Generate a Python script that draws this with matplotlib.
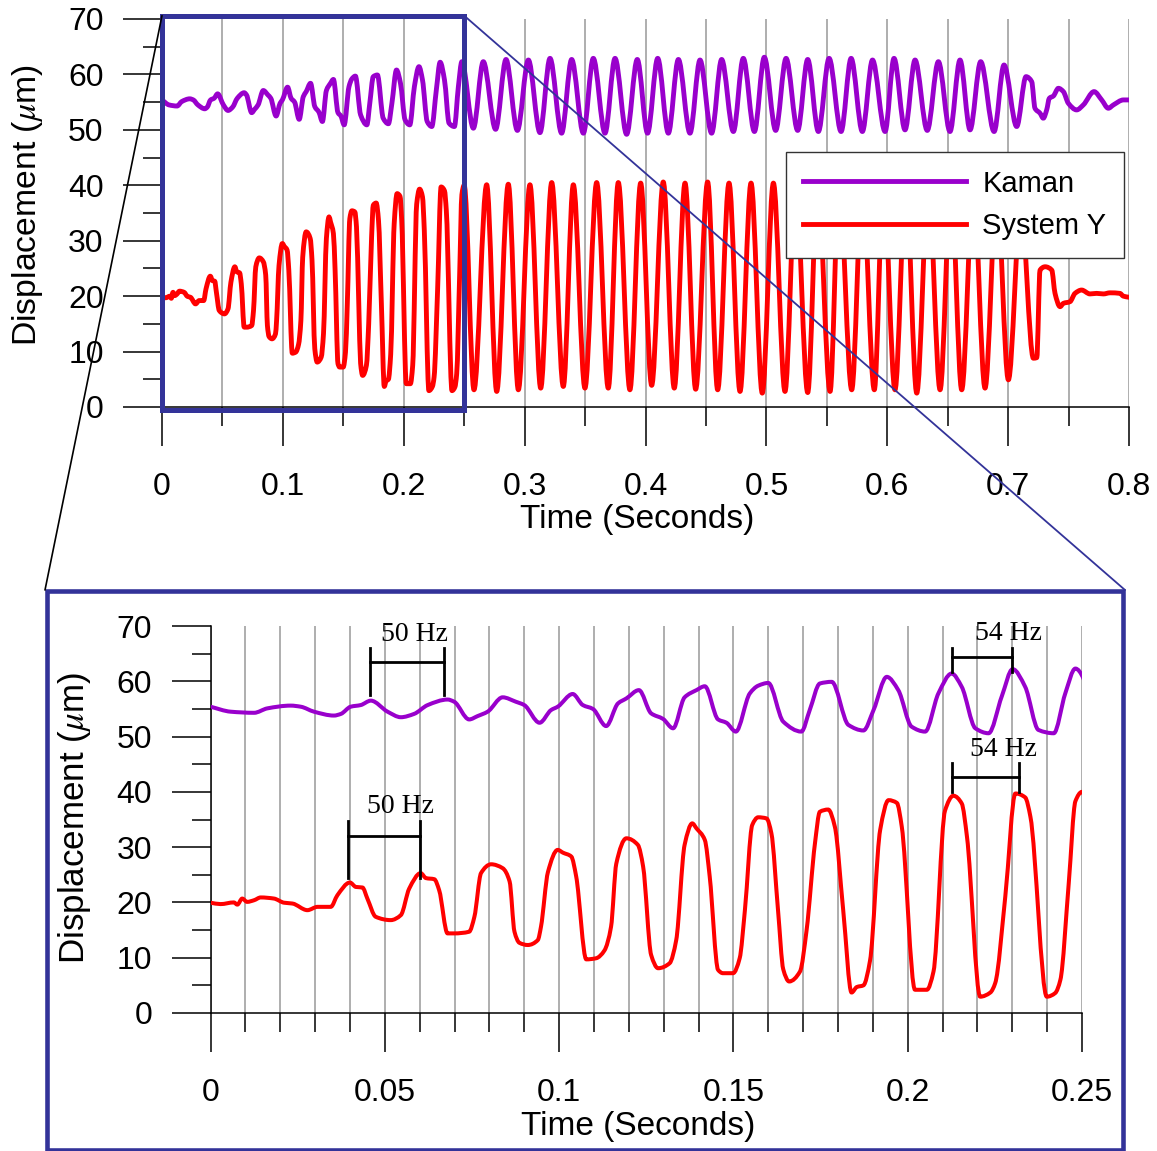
import matplotlib
matplotlib.use("Agg")
import matplotlib.pyplot as plt
from matplotlib.patches import Rectangle, ConnectionPatch, PathPatch
from matplotlib.path import Path
from matplotlib.lines import Line2D
from matplotlib.ticker import MultipleLocator, FuncFormatter

plt.rcParams["font.family"] = ["Liberation Sans", "DejaVu Sans"]
plt.rcParams["mathtext.fontset"] = "stix"

W, H = 1157, 1151

# Kaman probe, time (s) / displacement (um)
kaman_t = [0, 0.0058, 0.0125, 0.0163, 0.0230, 0.0259, 0.0297, 0.0354, 0.0374, 0.0402,
           0.0431, 0.0460, 0.0508, 0.0546, 0.0584, 0.0623, 0.0680, 0.0699, 0.0742, 0.0766,
           0.0795, 0.0838, 0.0876, 0.0900, 0.0944, 0.0977, 0.0996, 0.1039, 0.1068, 0.1097,
           0.1135, 0.1169, 0.1193, 0.1229, 0.1264, 0.1298, 0.1327, 0.1360, 0.1394, 0.1418,
           0.1456, 0.1480, 0.1507, 0.1547, 0.1571, 0.1600, 0.1643, 0.1695, 0.1719, 0.1748,
           0.1782, 0.1830, 0.1873, 0.1902, 0.1940, 0.1973, 0.2011, 0.2050, 0.2088, 0.2126,
           0.2155, 0.2194, 0.2232, 0.2270, 0.2301, 0.2337, 0.2375, 0.2419, 0.2452, 0.2481,
           0.2576, 0.2658, 0.2760, 0.2846, 0.2940, 0.3031, 0.3127, 0.3210, 0.3306, 0.3389,
           0.3486, 0.3568, 0.3665, 0.3748, 0.3844, 0.3932, 0.4017, 0.4101, 0.4189, 0.4272,
           0.4368, 0.4451, 0.4547, 0.4630, 0.4727, 0.4809, 0.4901, 0.4983, 0.5077, 0.5163,
           0.5259, 0.5342, 0.5430, 0.5519, 0.5618, 0.5701, 0.5794, 0.5878, 0.5982, 0.6056,
           0.6147, 0.6230, 0.6331, 0.6423, 0.6519, 0.6602, 0.6685, 0.6773, 0.6884, 0.6966,
           0.7071, 0.7148, 0.7195, 0.7222, 0.7264, 0.7291, 0.7319, 0.7341, 0.7374, 0.7416,
           0.7457, 0.7498, 0.7567, 0.7622, 0.7711, 0.7774, 0.7829, 0.7871, 0.7954, 0.8000]
kaman_um = [55.4, 54.5, 54.3, 55.1, 55.6, 55.4, 54.5, 53.8, 54.1, 55.4,
            55.7, 56.5, 54.5, 53.5, 54.1, 55.7, 56.7, 56.3, 53.1, 53.7,
            54.5, 57.1, 56.3, 55.7, 52.5, 54.8, 55.4, 57.7, 55.7, 55.0,
            51.9, 56.0, 56.9, 58.4, 54.2, 53.2, 51.5, 57.1, 58.4, 59.1,
            53.1, 52.5, 50.9, 57.8, 59.2, 59.7, 52.7, 50.9, 54.8, 59.6,
            59.9, 52.1, 51.1, 54.8, 60.8, 58.4, 51.8, 50.9, 57.8, 61.4,
            59.0, 51.5, 50.6, 57.3, 62.2, 59.0, 51.2, 50.6, 57.8, 62.3,
            50.3, 62.3, 50.1, 62.7, 49.9, 62.6, 49.5, 62.9, 49.4, 62.7,
            49.4, 62.9, 49.4, 62.9, 49.2, 62.7, 49.4, 62.9, 49.4, 62.7,
            49.4, 62.6, 49.4, 62.7, 49.7, 62.9, 49.7, 63.1, 49.9, 62.9,
            49.9, 62.7, 49.7, 62.9, 49.7, 62.9, 49.7, 62.6, 49.7, 62.9,
            50.0, 62.6, 49.9, 62.3, 49.7, 62.6, 50.0, 62.3, 49.7, 61.7,
            50.6, 59.6, 58.7, 53.9, 53.0, 52.1, 53.6, 55.7, 56.1, 57.5,
            56.9, 54.8, 53.6, 54.5, 56.9, 55.4, 53.9, 54.5, 55.4, 55.4]

# System Y
sysy_t = [0, 0.0029, 0.0067, 0.0077, 0.0091, 0.0105, 0.0125, 0.0144, 0.0182, 0.0211,
          0.0235, 0.0278, 0.0307, 0.0345, 0.0364, 0.0400, 0.0417, 0.0436, 0.0450, 0.0474,
          0.0517, 0.0546, 0.0570, 0.0603, 0.0618, 0.0642, 0.0656, 0.0680, 0.0699, 0.0742,
          0.0757, 0.0776, 0.0805, 0.0838, 0.0858, 0.0872, 0.0886, 0.0910, 0.0939, 0.0948,
          0.0968, 0.0996, 0.1011, 0.1035, 0.1049, 0.1078, 0.1106, 0.1130, 0.1149, 0.1164,
          0.1193, 0.1226, 0.1241, 0.1264, 0.1284, 0.1317, 0.1336, 0.1360, 0.1382, 0.1394,
          0.1418, 0.1432, 0.1456, 0.1470, 0.1499, 0.1518, 0.1533, 0.1554, 0.1571, 0.1595,
          0.1609, 0.1628, 0.1643, 0.1660, 0.1691, 0.1710, 0.1734, 0.1748, 0.1772, 0.1791,
          0.1815, 0.1839, 0.1854, 0.1873, 0.1892, 0.1921, 0.1945, 0.1969, 0.1983, 0.2021,
          0.2055, 0.2074, 0.2107, 0.2131, 0.2155, 0.2170, 0.2208, 0.2237, 0.2251, 0.2280,
          0.2309, 0.2337, 0.2352, 0.2399, 0.2423, 0.2438, 0.2462, 0.2481, 0.2500, 0.2581,
          0.2686, 0.2769, 0.2865, 0.2948, 0.3044, 0.3133, 0.3224, 0.3320, 0.3403, 0.3499,
          0.3596, 0.3692, 0.3775, 0.3871, 0.3960, 0.4051, 0.4147, 0.4238, 0.4327, 0.4415,
          0.4514, 0.4597, 0.4691, 0.4782, 0.4873, 0.4966, 0.5058, 0.5154, 0.5242, 0.5342,
          0.5424, 0.5527, 0.5601, 0.5706, 0.5794, 0.5893, 0.5968, 0.6064, 0.6154, 0.6244,
          0.6340, 0.6437, 0.6527, 0.6616, 0.6712, 0.6809, 0.6906, 0.7002, 0.7105, 0.7209,
          0.7237, 0.7264, 0.7306, 0.7361, 0.7388, 0.7430, 0.7457, 0.7512, 0.7553, 0.7608,
          0.7677, 0.7732, 0.7788, 0.7843, 0.7925, 0.7953, 0.8000]
sysy_um = [19.95, 19.7, 20.0, 19.6, 20.7, 20.1, 20.4, 20.9, 20.7, 19.95,
           19.8, 18.6, 19.2, 19.2, 21.3, 23.6, 22.8, 22.7, 20.7, 17.4,
           16.8, 17.7, 22.5, 25.3, 24.4, 24.2, 22.2, 14.4, 14.4, 14.7,
           17.4, 25.3, 26.9, 26.2, 23.8, 14.7, 12.7, 12.3, 13.2, 15.6,
           25.5, 29.5, 29.0, 28.3, 24.7, 9.7, 9.9, 11.3, 15.6, 27.0,
           31.6, 30.4, 26.5, 10.5, 8.1, 9.0, 13.2, 30.4, 34.3, 33.4,
           31.3, 24.7, 7.8, 7.2, 7.2, 9.9, 18.6, 34.0, 35.4, 35.2,
           32.5, 18.6, 7.9, 5.7, 7.5, 15.0, 30.7, 36.4, 36.8, 33.7,
           18.6, 3.7, 4.7, 5.0, 9.5, 33.1, 38.5, 38.0, 33.7, 4.2,
           4.2, 7.5, 36.6, 39.3, 37.9, 31.9, 2.95, 3.7, 5.4, 21.1,
           39.7, 39.0, 35.5, 2.95, 3.6, 6.0, 23.5, 38.3, 40.0, 3.1,
           40.1, 2.8, 40.2, 3.1, 40.1, 3.4, 40.5, 3.7, 40.1, 3.4,
           40.5, 3.4, 40.5, 3.1, 40.4, 3.9, 40.6, 3.4, 40.4, 3.2,
           40.6, 3.1, 40.4, 2.8, 40.4, 2.5, 40.4, 2.8, 40.4, 2.6,
           40.4, 2.8, 40.4, 3.1, 40.4, 3.1, 40.4, 3.1, 40.2, 2.5,
           40.2, 3.1, 40.0, 3.1, 39.8, 3.4, 39.0, 4.9, 36.0, 8.8,
           8.9, 24.7, 25.3, 24.7, 20.5, 18.1, 18.7, 19.0, 20.5, 21.1,
           20.4, 20.5, 20.4, 20.6, 20.5, 20.0, 19.8]

series_names = ["Kaman", "System Y"]
series_colors = ["#9900cc", "#ff0000"]

zoom_range = (0, 0.25)

# period brackets on the zoomed panel: x1, x2, y_low, y_bar, y_high, label, text x, text y
brackets = [(0.0458, 0.0671, 57.5, 63.5, 66.0, "50 Hz", 0.0584, 68.5),
            (0.0395, 0.0601, 24.4, 32.1, 34.8, "50 Hz", 0.0546, 37.4),
            (0.2126, 0.2300, 61.7, 64.4, 66.0, "54 Hz", 0.2288, 68.6),
            (0.2126, 0.2320, 40.0, 42.7, 45.2, "54 Hz", 0.2276, 47.6)]

frame_blue = "#333399"

fig = plt.figure(figsize=(W / 100, H / 100), dpi=100)


def px_axes(l, t, r, b):
    return fig.add_axes([l / W, 1 - b / H, (r - l) / W, (b - t) / H])


def smooth_path(t, v):
    # smoothed line through the read points, monotone cubic so it never overshoots
    n = len(t)
    h = [t[i + 1] - t[i] for i in range(n - 1)]
    d = [(v[i + 1] - v[i]) / h[i] for i in range(n - 1)]
    m = [d[0]] + [0.0] * (n - 2) + [d[-1]]
    for k in range(1, n - 1):
        if d[k - 1] * d[k] > 0:
            w1 = 2 * h[k] + h[k - 1]
            w2 = h[k] + 2 * h[k - 1]
            m[k] = (w1 + w2) / (w1 / d[k - 1] + w2 / d[k])
    verts = [(t[0], v[0])]
    codes = [Path.MOVETO]
    for i in range(n - 1):
        verts += [(t[i] + h[i] / 3, v[i] + m[i] * h[i] / 3),
                  (t[i + 1] - h[i] / 3, v[i + 1] - m[i + 1] * h[i] / 3),
                  (t[i + 1], v[i + 1])]
        codes += [Path.CURVE4] * 3
    return Path(verts, codes)


def style(ax, xmax, major, minor, lw, lab_size, xlab_pos, ylab_pos):
    for t, v, c in [(kaman_t, kaman_um, series_colors[0]),
                    (sysy_t, sysy_um, series_colors[1])]:
        ax.add_patch(PathPatch(smooth_path(t, v), fill=False, ec=c, lw=lw,
                               joinstyle="round", capstyle="round", zorder=3))
    ax.set_xlim(0, xmax)
    ax.set_ylim(0, 70)
    ax.xaxis.set_major_locator(MultipleLocator(major))
    ax.xaxis.set_minor_locator(MultipleLocator(minor))
    ax.yaxis.set_major_locator(MultipleLocator(10))
    ax.yaxis.set_minor_locator(MultipleLocator(5))
    ax.xaxis.set_major_formatter(FuncFormatter(lambda v, p: "%g" % round(v, 4)))
    ax.tick_params(which="major", direction="out", length=28, width=1.1,
                   labelsize=23, color="black")
    ax.tick_params(which="minor", direction="out", length=14, width=1.1, color="black")
    ax.tick_params(axis="x", which="major", pad=19)
    ax.tick_params(axis="y", which="major", pad=14)
    ax.grid(True, axis="x", which="both", color="#999999", lw=1.1)
    ax.set_axisbelow(True)
    for s in ["top", "right"]:
        ax.spines[s].set_visible(False)
    for s in ["left", "bottom"]:
        ax.spines[s].set_linewidth(1.1)
        ax.spines[s].set_color("black")
    ax.set_xlabel("Time (Seconds)", fontsize=24)
    ax.set_ylabel(r"Displacement ($\mu$m)", fontsize=lab_size)
    ax.xaxis.set_label_coords(*xlab_pos)
    ax.xaxis.label.set_verticalalignment("center")
    ax.yaxis.set_label_coords(*ylab_pos)
    ax.yaxis.label.set_verticalalignment("center")


# full record
ax1 = px_axes(162, 19, 1129, 407)
style(ax1, 0.8, 0.1, 0.05, 3.5, 24.3, (0.491, -0.291), (-0.1396, 0.52))

# zoomed start
ax2 = px_axes(210.5, 626, 1082, 1013)
style(ax2, zoom_range[1], 0.05, 0.01, 2.9, 25.2, (0.491, -0.292), (-0.1555, 0.505))

handles = [Line2D([], [], color=c, lw=3.5) for c in series_colors]
leg = ax1.legend(handles, series_names, loc="upper right",
                 bbox_to_anchor=(1124 / W, 1 - 152 / H),
                 bbox_transform=fig.transFigure, fontsize=21, handlelength=5.6,
                 handletextpad=0.55, borderpad=0.6, labelspacing=0.5, borderaxespad=0,
                 fancybox=False, framealpha=1, edgecolor="#333333")
leg.get_frame().set_linewidth(1.0)
leg.set_zorder(10)

for x1, x2, ylo, ybar, yhi, lab, tx, ty in brackets:
    ax2.plot([x1, x1], [ylo, yhi], color="black", lw=2, zorder=4)
    ax2.plot([x2, x2], [ylo, yhi], color="black", lw=2, zorder=4)
    ax2.plot([x1, x2], [ybar, ybar], color="black", lw=2, zorder=4)
    ax2.text(tx, ty, lab, fontsize=20, family="Liberation Serif",
             ha="center", va="center", zorder=4)

# zoom box on the full record, and the frame round the zoomed panel
ax1.add_patch(Rectangle((zoom_range[0], -0.55), zoom_range[1] - zoom_range[0], 71.1,
                        fill=False, ec=frame_blue, lw=3.6, clip_on=False, zorder=6))
fig.add_artist(Rectangle((47 / W, 1 - 1149.5 / H), (1123 - 47) / W, (1149.5 - 590.5) / H,
                         transform=fig.transFigure, fill=False, ec=frame_blue, lw=3.3))

fig.add_artist(ConnectionPatch(xyA=(zoom_range[0], 70.6), coordsA=ax1.transData,
                               xyB=(45 / W, 1 - 590 / H), coordsB=fig.transFigure,
                               color="black", lw=1.2, zorder=7))
fig.add_artist(ConnectionPatch(xyA=(zoom_range[1], 70.6), coordsA=ax1.transData,
                               xyB=(1125 / W, 1 - 590 / H), coordsB=fig.transFigure,
                               color=frame_blue, lw=1.3, zorder=7))

fig.savefig("out.png", dpi=100)
